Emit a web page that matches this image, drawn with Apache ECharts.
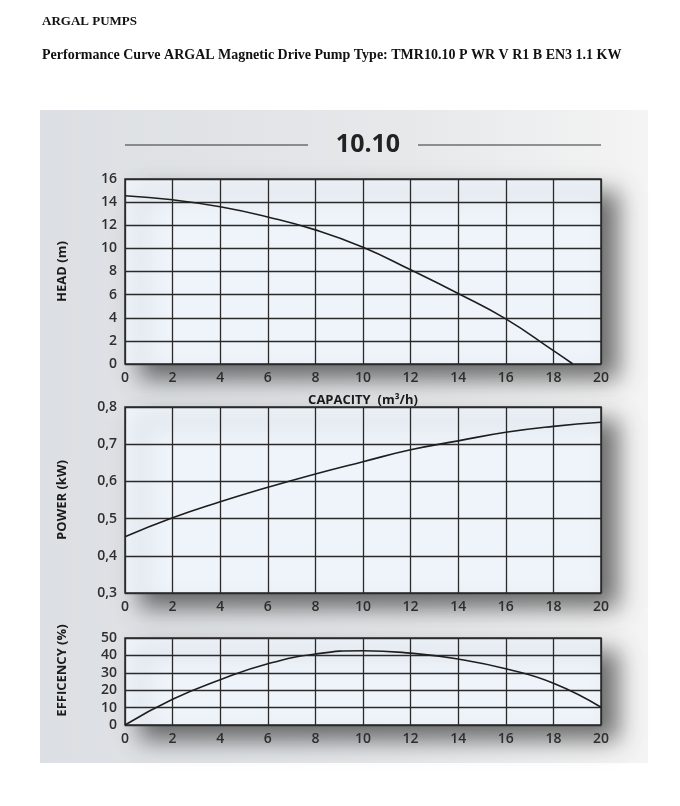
<!DOCTYPE html>
<html lang="en">
<head>
    <meta charset="UTF-8">
    <title>ARGAL TMR10.10</title>
    <script src="https://cdn.jsdelivr.net/npm/echarts@6/dist/echarts.min.js"></script>
    <style>
        body { margin: 0; background: #fff; }
    </style>
</head>
<body>
<div id="main" style="width: 680px;height: 806px"></div>
<script type="text/javascript">
  // capacity ticks shared by all three charts (m3/h)
  var capacity = [0, 2, 4, 6, 8, 10, 12, 14, 16, 18, 20];
  // head curve ends where it hits 0 m, a bit short of 19
  var headCapacity = [0, 2, 4, 6, 8, 10, 12, 14, 16, 18, 18.82];
  var head = [14.55, 14.2, 13.6, 12.72, 11.6, 10.1, 8.15, 6.1, 3.9, 1.15, 0];
  var power = [0.451, 0.502, 0.545, 0.584, 0.620, 0.653, 0.685, 0.709, 0.732, 0.748, 0.759];
  var efficiency = [0, 14.8, 26, 35.2, 40.8, 42.7, 41.3, 37.9, 32.3, 24, 10.2];

  function pairs(xs, ys) {
    var out = [];
    for (var i = 0; i < xs.length; i++) {
      out.push([xs[i], ys[i]]);
    }
    return out;
  }

  var fontFamily = '"Open Sans", "DejaVu Sans", sans-serif';
  var gridLine = { lineStyle: { color: '#2a2a2a', width: 1.3 } };
  var tickLabel = { color: '#2e2e2e', fontSize: 14, fontFamily: fontFamily, fontWeight: 600 };
  var nameStyle = { color: '#1a1a1a', fontSize: 13, fontFamily: fontFamily, fontWeight: 'bold' };

  function grid(top, height) {
    return {
      left: 125, width: 476, top: top, height: height,
      show: true,
      backgroundColor: '#eef4fa',
      borderColor: '#2a2a2a',
      borderWidth: 1.5,
      shadowColor: 'rgba(0,0,0,0.55)',
      shadowBlur: 22,
      shadowOffsetX: 16,
      shadowOffsetY: 14
    };
  }

  function xAxis(idx) {
    return {
      type: 'value', gridIndex: idx, min: 0, max: 20, interval: 2,
      axisLine: { show: false }, axisTick: { show: false },
      splitLine: gridLine,
      axisLabel: Object.assign({ margin: 7 }, tickLabel)
    };
  }

  var myChart = echarts.init(document.getElementById('main'));
  var option = {
    backgroundColor: '#fff',
    animation: false,
    title: [{
      text: 'ARGAL PUMPS',
      left: 37, top: 10,
      textStyle: { fontFamily: '"Liberation Serif", serif', fontSize: 13, fontWeight: 'bold', color: '#111', letterSpacing: 2.2 }
    }, {
      text: 'Performance Curve ARGAL Magnetic Drive Pump Type: TMR10.10 P WR V R1 B EN3 1.1 KW',
      left: 37, top: 43,
      textStyle: { fontFamily: '"Liberation Serif", serif', fontSize: 14, fontWeight: 'bold', color: '#111' }
    }, {
      text: '10.10',
      left: 363, top: 127, textAlign: 'center',
      textStyle: { fontFamily: fontFamily, fontSize: 25, fontWeight: 'bold', color: '#222' }
    }],
    graphic: [{
      type: 'rect', z: -10,
      shape: { x: 40, y: 110, width: 608, height: 653 },
      style: {
        fill: new echarts.graphic.LinearGradient(0, 0, 1, 0, [
          { offset: 0, color: '#dcdfe3' },
          { offset: 0.6, color: '#e6e8ea' },
          { offset: 1, color: '#f4f4f4' }
        ])
      }
    }, {
      type: 'line',
      shape: { x1: 125, y1: 145, x2: 308, y2: 145 },
      style: { stroke: '#333', lineWidth: 1.2 }
    }, {
      type: 'line',
      shape: { x1: 418, y1: 145, x2: 601, y2: 145 },
      style: { stroke: '#333', lineWidth: 1.2 }
    }],
    grid: [grid(179, 185), grid(407, 186), grid(638, 87)],
    xAxis: [
      Object.assign(xAxis(0), {
        name: 'CAPACITY  (m³/h)', nameLocation: 'middle', nameGap: 30,
        nameTextStyle: nameStyle
      }),
      xAxis(1),
      xAxis(2)
    ],
    yAxis: [{
      type: 'value', gridIndex: 0, min: 0, max: 16, interval: 2,
      axisLine: { show: false }, axisTick: { show: false },
      splitLine: gridLine,
      axisLabel: Object.assign({ margin: 8 }, tickLabel),
      name: 'HEAD (m)', nameLocation: 'middle', nameGap: 56, nameTextStyle: nameStyle
    }, {
      type: 'value', gridIndex: 1, min: 0.3, max: 0.8, interval: 0.1,
      axisLine: { show: false }, axisTick: { show: false },
      splitLine: gridLine,
      axisLabel: Object.assign({
        margin: 8,
        formatter: function (v) { return v.toFixed(1).replace('.', ','); }
      }, tickLabel),
      name: 'POWER (kW)', nameLocation: 'middle', nameGap: 56, nameTextStyle: nameStyle
    }, {
      type: 'value', gridIndex: 2, min: 0, max: 50, interval: 10,
      axisLine: { show: false }, axisTick: { show: false },
      splitLine: gridLine,
      axisLabel: Object.assign({ margin: 8 }, tickLabel),
      name: 'EFFICENCY (%)', nameLocation: 'middle', nameGap: 56,
      nameTextStyle: Object.assign({ padding: [0, 0, 0, 22] }, nameStyle)
    }],
    series: [{
      type: 'line', xAxisIndex: 0, yAxisIndex: 0,
      data: pairs(headCapacity, head),
      smooth: true, symbol: 'none',
      lineStyle: { color: '#1e1e1e', width: 1.6 }
    }, {
      type: 'line', xAxisIndex: 1, yAxisIndex: 1,
      data: pairs(capacity, power),
      smooth: true, symbol: 'none',
      lineStyle: { color: '#1e1e1e', width: 1.6 }
    }, {
      type: 'line', xAxisIndex: 2, yAxisIndex: 2,
      data: pairs(capacity, efficiency),
      smooth: true, symbol: 'none',
      lineStyle: { color: '#1e1e1e', width: 1.6 }
    }]
  };
  myChart.setOption(option);
</script>
</body>
</html>
